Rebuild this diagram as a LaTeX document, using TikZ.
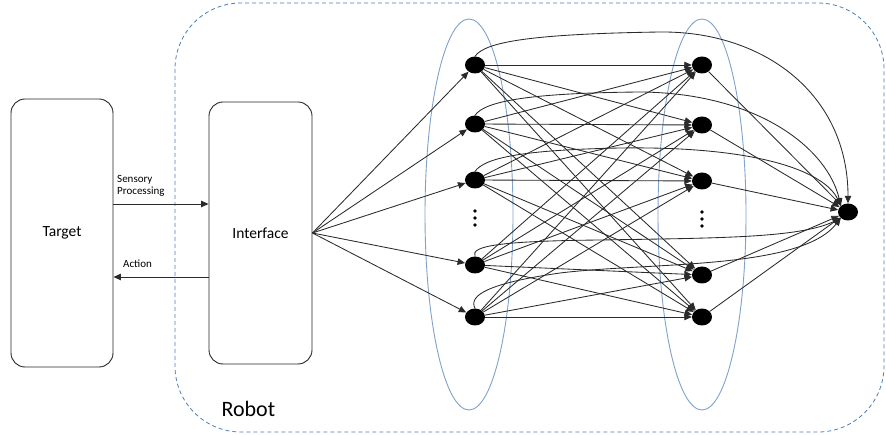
\documentclass[tikz,border=0pt]{standalone}
\usepackage{fontspec}
\setmainfont{Carlito}
\usetikzlibrary{arrows.meta,shapes.geometric}
\definecolor{robotblue}{HTML}{4A7EBB}
\definecolor{layerblue}{HTML}{7FA2CA}
\definecolor{edgegray}{HTML}{2A2A2A}
\begin{document}
\begin{tikzpicture}[x=1pt,y=-1pt,
  box/.style={draw=black!85, line width=0.9pt, rounded corners=14pt, inner sep=0pt, font=\fontsize{15.5}{18}\selectfont},
  neuron/.style={ellipse, fill=black, minimum width=20pt, minimum height=17pt, inner sep=0pt},
  arr/.style={draw=edgegray, line width=0.85pt, -{Triangle[length=7.5pt,width=6.5pt]}},
  layer/.style={draw=layerblue, line width=0.9pt},
  robot/.style={draw=robotblue, line width=0.8pt, dash pattern=on 4pt off 3pt, rounded corners=66pt},
  lbl/.style={font=\fontsize{11}{13}\selectfont, inner sep=0pt, align=left},
  dot/.style={fill=black}
]
\useasboundingbox (0,0) rectangle (886,435);
% robot boundary
\draw[robot] (175,3) rectangle (884,432);
\node[font=\fontsize{22}{24}\selectfont, anchor=west] (robotlbl) at (218,409) {Robot};
% layer ellipses
\draw[layer] (469,214.5) ellipse [x radius=44, y radius=195.5];
\draw[layer] (702,214.5) ellipse [x radius=44, y radius=195.5];
% boxes
\node[box, minimum width=102pt, minimum height=268pt] (T) at (62,233) {Target};
\node[box, minimum width=103pt, minimum height=262pt] (I) at (260.5,233) {Interface};
\coordinate (sy) at (0,204);
\coordinate (ay) at (0,277);
\draw[arr] (T.east |- sy) -- (I.west |- sy);
\draw[arr] (I.west |- ay) -- (T.east |- ay);
\node[lbl, anchor=north west] (sp) at (117,175.5) {Sensory\\[-1pt]Processing};
\node[lbl, anchor=west] (ac) at (123,263.5) {Action};
% neurons
\node[neuron] (L1) at (475,65) {};
\node[neuron] (L2) at (475,124) {};
\node[neuron] (L3) at (475,180) {};
\node[neuron] (L4) at (475,265) {};
\node[neuron] (L5) at (475,317) {};
\node[neuron] (R1) at (702,65) {};
\node[neuron] (R2) at (702,125) {};
\node[neuron] (R3) at (702,181) {};
\node[neuron] (R4) at (702,275) {};
\node[neuron] (R5) at (702,317) {};
\node[neuron] (O) at (848,212) {};
% vertical dots
\foreach \yy in {211,218,225} {
  \fill[dot] (475,\yy) circle (1.8pt);
  \fill[dot] (702,\yy+1) circle (1.8pt);
}
% interface to first layer
\foreach \k in {1,...,5} \draw[arr] (I.east) -- (L\k);
% full bipartite
\foreach \i in {1,...,5} \foreach \j in {1,...,5} \draw[arr] (L\i) -- (R\j);
% second layer to output
\foreach \j in {1,...,5} \draw[arr] (R\j) -- (O);
% skip connections
\draw[arr] (L1.north) .. controls (485,42) and (530,34) .. (660,32) .. controls (765,31) and (848,95) .. (O.north);
\draw[arr] (L2.north) .. controls (485,101) and (530,93) .. (640,92) .. controls (760,93) and (828,150) .. (O.north west);
\draw[arr] (L3.north) .. controls (485,158) and (520,150) .. (620,148) .. controls (760,146) and (825,172) .. (O.north west);
\draw[arr] (L4.north) .. controls (470,246) and (500,241) .. (600,240) .. controls (720,238) and (800,238) .. (O.south west);
\draw[arr] (L5.north) .. controls (468,295) and (490,283) .. (560,273) .. controls (650,262) and (800,270) .. (O.south west);
\end{tikzpicture}
\end{document}
